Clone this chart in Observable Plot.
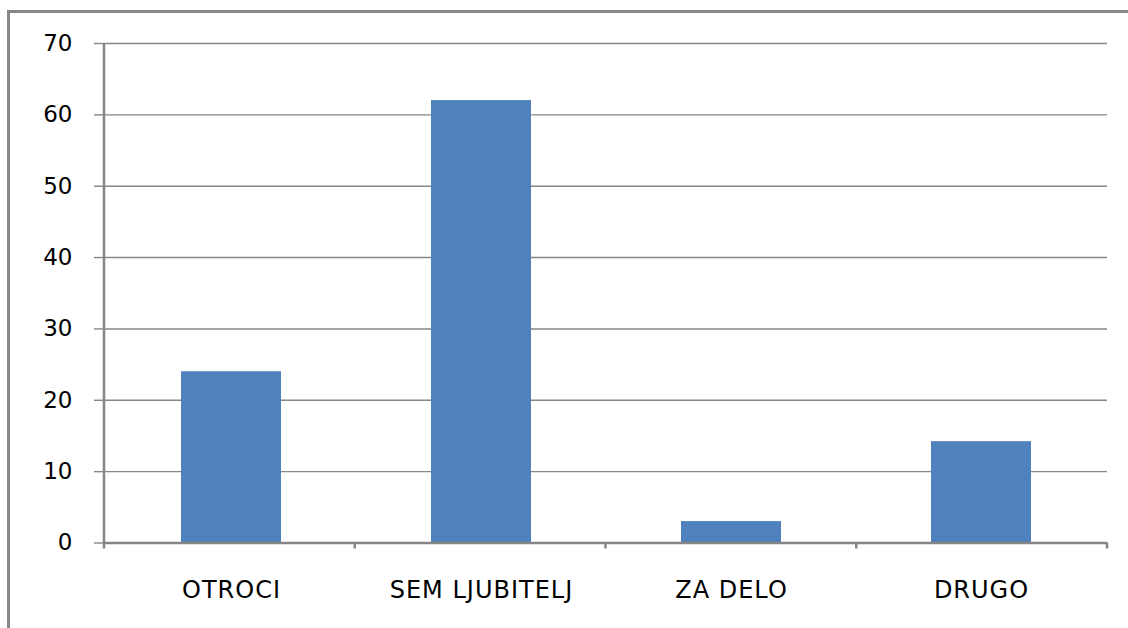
<!DOCTYPE html>
<html>
<head>
<meta charset="utf-8">
<script src="https://cdn.jsdelivr.net/npm/d3@7"></script>
<script src="https://cdn.jsdelivr.net/npm/@observablehq/plot@0.6"></script>
<style>
  html, body { margin: 0; padding: 0; background: #fff; overflow: hidden; width: 1128px; height: 628px; }
  #frame { position: absolute; left: 7px; top: 10px; width: 1300px; height: 800px;
           border-left: 3px solid #878787; border-top: 3px solid #878787; box-sizing: border-box; }
  #chart { position: absolute; left: 0; top: 0; }
  #chart g[aria-label="x-axis tick label"] text { letter-spacing: 1px; }
</style>
</head>
<body>
<div id="frame"></div>
<div id="chart"></div>
<script>
const categories = ["OTROCI", "SEM LJUBITELJ", "ZA DELO", "DRUGO"];
const values = [24, 62, 3, 14.2];
const yTicks = [0, 10, 20, 30, 40, 50, 60, 70];

const data = categories.map((c, i) => ({category: c, value: values[i]}));
const gray = "#868686";

function boundaryTicks(index, scales, channels, dims) {
  const {marginLeft, marginRight, width} = dims;
  const n = categories.length;
  const step = (width - marginLeft - marginRight) / n;
  const y0 = scales.y(0);
  const yTop = scales.y(d3.max(yTicks));
  const g = d3.create("svg:g").attr("stroke", gray).attr("stroke-width", 2.5);
  g.append("line").attr("x1", marginLeft).attr("x2", marginLeft).attr("y1", yTop).attr("y2", y0 + 6);
  for (let i = 1; i <= n; i++) {
    const x = marginLeft + i * step;
    g.append("line").attr("x1", x).attr("x2", x).attr("y1", y0).attr("y2", y0 + 6);
  }
  return g.node();
}

const chart = Plot.plot({
  width: 1128,
  height: 628,
  marginLeft: 104,
  marginRight: 21,
  marginTop: 43,
  marginBottom: 85.5,
  style: {fontFamily: "DejaVu Sans", fontSize: "24px", color: "#000", background: "transparent"},
  x: {domain: categories, paddingInner: 0.6, paddingOuter: 0.3, label: null},
  y: {domain: [0, 70], label: null},
  marks: [
    Plot.ruleY(yTicks.filter(t => t > 0), {stroke: gray, strokeWidth: 1.4, strokeOpacity: 1}),
    Plot.barY(data, {x: "category", y: "value", fill: "#4F81BD"}),
    Plot.ruleY([0], {stroke: gray, strokeWidth: 2.5, strokeOpacity: 1}),
    boundaryTicks,
    Plot.axisY({ticks: yTicks, tickSize: 10, tickPadding: 22, stroke: gray, strokeWidth: 1.4, strokeOpacity: 1, fill: "#000", fontSize: 23, label: null}),
    Plot.axisX({tickSize: 0, tickPadding: 37.5, fill: "#000", fontSize: 24, label: null})
  ]
});
document.getElementById("chart").appendChild(chart);
</script>
</body>
</html>
